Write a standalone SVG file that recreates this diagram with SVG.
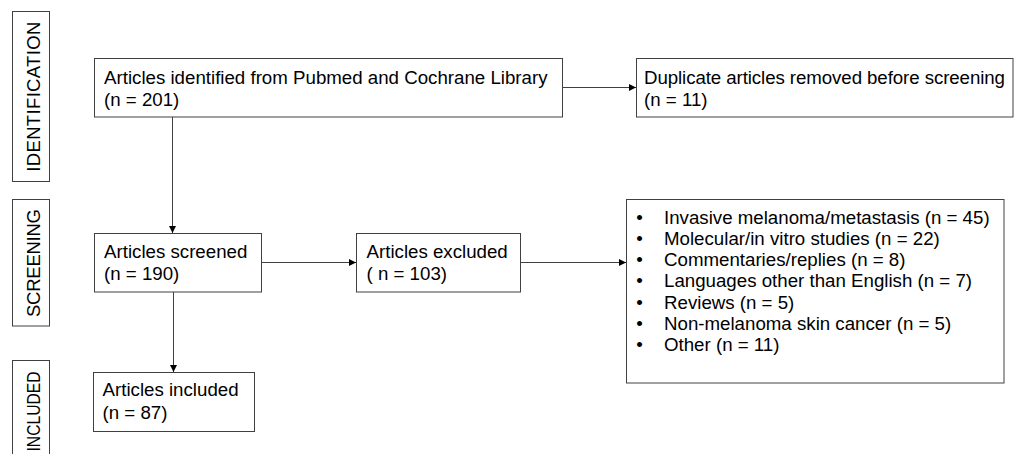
<svg xmlns="http://www.w3.org/2000/svg" width="1017" height="454" viewBox="0 0 1017 454">
  <style>
    .box { fill: #ffffff; stroke: #404040; stroke-width: 1; }
    .t { font-family: "Liberation Sans", Arial, sans-serif; font-size: 18.7px; fill: #000000; }
    .side { font-family: "Liberation Sans", Arial, sans-serif; font-size: 18.5px; fill: #000000; text-anchor: middle; }
    .conn { stroke: #404040; stroke-width: 1; fill: none; marker-end: url(#arrow); }
  </style>
  <defs>
    <marker id="arrow" markerUnits="userSpaceOnUse" markerWidth="7" markerHeight="7" refX="7" refY="3.5" orient="auto">
      <path d="M0,0 L7,3.5 L0,7 z" fill="#000000"/>
    </marker>
  </defs>
  <rect width="1017" height="454" fill="#ffffff"/>

  <g id="label-identification">
    <rect class="box" x="12.5" y="11.5" width="37" height="170"/>
    <text class="side" transform="translate(39.5,96.7) rotate(-90)" textLength="150">IDENTIFICATION</text>
  </g>
  <g id="label-screening">
    <rect class="box" x="12.5" y="199.5" width="37" height="126.5"/>
    <text class="side" transform="translate(39.5,263) rotate(-90)" textLength="108">SCREENING</text>
  </g>
  <g id="label-included">
    <rect class="box" x="12.5" y="360.5" width="37" height="110"/>
    <text class="side" transform="translate(39.5,411.5) rotate(-90)" textLength="80" lengthAdjust="spacingAndGlyphs">INCLUDED</text>
  </g>

  <g id="connectors">
    <line class="conn" x1="563" y1="87.5" x2="636" y2="87.5"/>
    <line class="conn" x1="172.5" y1="117" x2="172.5" y2="233"/>
    <line class="conn" x1="262" y1="262.5" x2="356" y2="262.5"/>
    <line class="conn" x1="521" y1="262.5" x2="626" y2="262.5"/>
    <line class="conn" x1="173.5" y1="292" x2="173.5" y2="372"/>
  </g>

  <g id="identified">
    <rect class="box" x="94.5" y="58.5" width="468" height="58.5"/>
    <text class="t" x="104" y="83.5">Articles identified from Pubmed and Cochrane Library</text>
    <text class="t" x="104" y="105.5">(n = 201)</text>
  </g>
  <g id="duplicates">
    <rect class="box" x="636.5" y="58.5" width="376.5" height="58.5"/>
    <text class="t" x="644" y="83.5" textLength="361">Duplicate articles removed before screening</text>
    <text class="t" x="644" y="105.5">(n = 11)</text>
  </g>
  <g id="screened">
    <rect class="box" x="94.5" y="233.5" width="167" height="58.5"/>
    <text class="t" x="104" y="257.5">Articles screened</text>
    <text class="t" x="104" y="280">(n = 190)</text>
  </g>
  <g id="excluded">
    <rect class="box" x="356.5" y="233.5" width="164" height="58.5"/>
    <text class="t" x="366.5" y="257.5">Articles excluded</text>
    <text class="t" x="366.5" y="280">( n = 103)</text>
  </g>
  <g id="reasons">
    <rect class="box" x="626.5" y="199.5" width="377.5" height="183.5"/>
    <g class="t" text-anchor="middle">
      <text x="639.5" y="223.5">•</text>
      <text x="639.5" y="244.8">•</text>
      <text x="639.5" y="266.1">•</text>
      <text x="639.5" y="287.4">•</text>
      <text x="639.5" y="308.7">•</text>
      <text x="639.5" y="330">•</text>
      <text x="639.5" y="351.3">•</text>
    </g>
    <text class="t" x="664" y="223.5">Invasive melanoma/metastasis (n = 45)</text>
    <text class="t" x="664" y="244.8">Molecular/in vitro studies (n = 22)</text>
    <text class="t" x="664" y="266.1">Commentaries/replies (n = 8)</text>
    <text class="t" x="664" y="287.4">Languages other than English (n = 7)</text>
    <text class="t" x="664" y="308.7">Reviews (n = 5)</text>
    <text class="t" x="664" y="330">Non-melanoma skin cancer (n = 5)</text>
    <text class="t" x="664" y="351.3">Other (n = 11)</text>
  </g>
  <g id="included">
    <rect class="box" x="93.5" y="372.5" width="161" height="59"/>
    <text class="t" x="102.5" y="396">Articles included</text>
    <text class="t" x="102.5" y="419">(n = 87)</text>
  </g>
</svg>
